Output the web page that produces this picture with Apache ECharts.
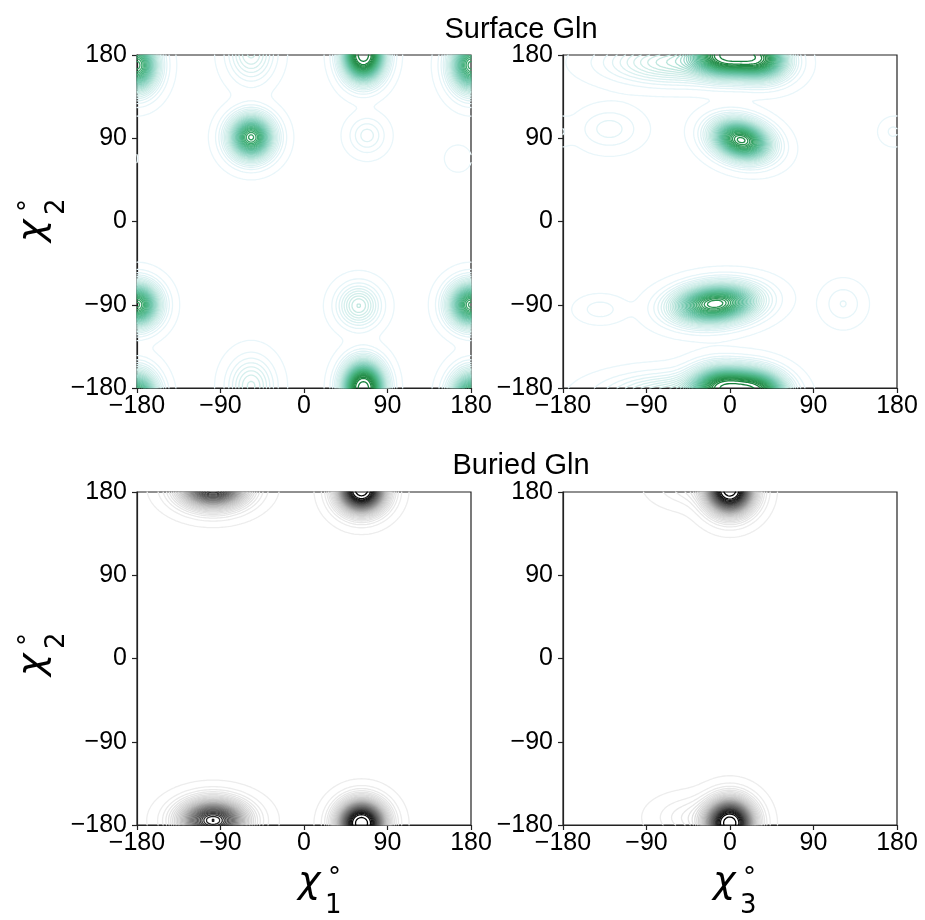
<!DOCTYPE html>
<html><head><meta charset="utf-8">
<script src="https://cdn.jsdelivr.net/npm/echarts@6/dist/echarts.min.js"></script>
<style>html,body{margin:0;padding:0;background:#fff}#c{width:925px;height:920px}</style>
</head><body><div id="c"></div>
<script>
// ---- data ----
const tickValues = [-180, -90, 0, 90, 180];
const panelTitles = ['Surface Gln', 'Buried Gln'];
// density peaks: [centre x (deg), centre chi2 (deg), spread x, spread y, relative height, tilt deg]
const surfaceChi1Peaks = [
  [58, 180, 12, 17, 0.75, 0],
  [70, 180, 12, 17, 0.75, 0],
  [-57, 91, 15, 15, 0.88, 0],
  [180, 169, 14, 18, 0.85, 0],
  [180, -90, 15, 15, 0.88, 0],
  [59, -91, 14.5, 14.5, 0.25, 0],
  [-57, -178, 15.5, 19.5, 0.20, 0],
  [68, 93, 12.5, 12.5, 0.10, 0],
  [166, 68, 9, 9, 0.03, 0]
];
const surfaceChi3Peaks = [
  [-8, 180, 20, 14, 0.80, -5],
  [30, 177, 20, 14, 0.80, -10],
  [-60, 172, 44, 14, 0.22, 0],
  [12, 88, 20, 13, 0.82, -15],
  [-16, -89, 28, 13, 0.80, 5],
  [122, -89, 14, 14, 0.05, 0],
  [175, 97, 9, 9, 0.03, 0],
  [-130, 100, 21, 14, 0.06, 0],
  [-140, -95, 16, 9, 0.04, 0]
];
const buriedChi1Peaks = [
  [62, -178, 16, 15, 1.00, 0],
  [-98, -175, 23, 14, 0.75, 0]
];
const buriedChi3Peaks = [
  [0, -178, 16, 16, 1.00, 0],
  [-40, -172, 25, 14, 0.07, 0]
];

// ---- styling ----
const BuGn = ['#f7fcfd','#e5f5f9','#ccece6','#99d8c9','#66c2a4','#41ae76','#238b45','#006d2c','#00441b'];
const Greys = ['#ffffff','#f0f0f0','#d9d9d9','#bdbdbd','#969696','#737373','#525252','#252525','#000000'];
function hex2rgb(h){return [parseInt(h.slice(1,3),16),parseInt(h.slice(3,5),16),parseInt(h.slice(5,7),16)];}
function cmap(stops, t){
  t = Math.max(0, Math.min(1, t));
  const p = t*(stops.length-1), i = Math.min(stops.length-2, Math.floor(p)), f = p-i;
  const a = hex2rgb(stops[i]), b = hex2rgb(stops[i+1]);
  return 'rgb(' + a.map((v,k)=>Math.round(v+(b[k]-v)*f)).join(',') + ')';
}

// ---- density field + marching squares ----
const N = 180;
const xs = [], ys = [];
for (let i = 0; i <= N; i++) { xs.push(-180 + 360*i/N); ys.push(-180 + 360*i/N); }
function wrap(d){ return ((d+180)%360+360)%360-180; }
function density(peaks){
  const g = [];
  let mx = 0;
  for (let j = 0; j <= N; j++) {
    const row = new Float64Array(N+1);
    for (let i = 0; i <= N; i++) {
      let v = 0;
      for (const p of peaks) {
        const dx = wrap(xs[i]-p[0]), dy = wrap(ys[j]-p[1]);
        const a = p[5]*Math.PI/180, c = Math.cos(a), s = Math.sin(a);
        const u = dx*c + dy*s, w = -dx*s + dy*c;
        v += p[4]*Math.exp(-0.5*(u*u/(p[2]*p[2]) + w*w/(p[3]*p[3])));
      }
      row[i] = v; if (v > mx) mx = v;
    }
    g.push(row);
  }
  return {g, mx};
}
function contour(g, L){
  const W = N+1;
  const adj = new Map();
  const pos = new Map();
  function hId(i,j){ const id=(j*W+i)*2; if(!pos.has(id)){const a=g[j][i],b=g[j][i+1];const t=(L-a)/(b-a);pos.set(id,[xs[i]+t*(xs[i+1]-xs[i]),ys[j]]);} return id; }
  function vId(i,j){ const id=(j*W+i)*2+1; if(!pos.has(id)){const a=g[j][i],b=g[j+1][i];const t=(L-a)/(b-a);pos.set(id,[xs[i],ys[j]+t*(ys[j+1]-ys[j])]);} return id; }
  function seg(a,b){ if(!adj.has(a))adj.set(a,[]); if(!adj.has(b))adj.set(b,[]); adj.get(a).push(b); adj.get(b).push(a); }
  for (let j = 0; j < N; j++) for (let i = 0; i < N; i++) {
    const v0=g[j][i], v1=g[j][i+1], v2=g[j+1][i+1], v3=g[j+1][i];
    const c = (v0>L?1:0)|(v1>L?2:0)|(v2>L?4:0)|(v3>L?8:0);
    if (c===0||c===15) continue;
    const e0=()=>hId(i,j), e1=()=>vId(i+1,j), e2=()=>hId(i,j+1), e3=()=>vId(i,j);
    const ctr = (v0+v1+v2+v3)/4 > L;
    switch(c){
      case 1: case 14: seg(e3(),e0()); break;
      case 2: case 13: seg(e0(),e1()); break;
      case 3: case 12: seg(e3(),e1()); break;
      case 4: case 11: seg(e1(),e2()); break;
      case 6: case 9: seg(e0(),e2()); break;
      case 7: case 8: seg(e3(),e2()); break;
      case 5: if(ctr){seg(e0(),e1());seg(e2(),e3());}else{seg(e3(),e0());seg(e1(),e2());} break;
      case 10: if(ctr){seg(e3(),e0());seg(e1(),e2());}else{seg(e0(),e1());seg(e2(),e3());} break;
    }
  }
  const seen = new Set(), lines = [];
  function walk(s){
    const line=[pos.get(s)]; seen.add(s); let cur=s;
    for(;;){
      const nb=adj.get(cur); let nx=null;
      for(const n of nb) if(!seen.has(n)){nx=n;break;}
      if(nx===null){ if(line.length>2 && nb.indexOf(s)>=0) line.push(pos.get(s)); break; }
      seen.add(nx); line.push(pos.get(nx)); cur=nx;
    }
    return line;
  }
  for (const [k,v] of adj) if (v.length===1 && !seen.has(k)) lines.push(walk(k));
  for (const [k] of adj) if (!seen.has(k)) lines.push(walk(k));
  return lines;
}

// contour levels: roughly even, thinning out toward the top of each peak
const NL = 36, LO = 0.006, HI = 0.92;
function levelFrac(f){ return 0.5*f + 0.5*(1 - Math.sqrt(1 - f)); }
const panels = [
  {peaks: surfaceChi1Peaks, stops: BuGn, t0: 0.1, t1: 0.8, cg: 1.0},
  {peaks: surfaceChi3Peaks, stops: BuGn, t0: 0.1, t1: 0.8, cg: 1.0},
  {peaks: buriedChi1Peaks, stops: Greys, t0: 0.14, t1: 1.0, cg: 1.3},
  {peaks: buriedChi3Peaks, stops: Greys, t0: 0.14, t1: 1.0, cg: 1.3}
];
const gridPos = [
  {left:137, top:55}, {left:563, top:55}, {left:137, top:492}, {left:563, top:492}
];
const FONT = '"Liberation Sans", Arial, sans-serif';
const series = [], grids = [], xAxes = [], yAxes = [];
panels.forEach((p, idx) => {
  grids.push({left: gridPos[idx].left, top: gridPos[idx].top, width: 334, height: 333,
    show: true, borderColor: '#222', borderWidth: 1.2, backgroundColor: 'transparent'});
  const ax = {
    gridIndex: idx, type: 'value', min: -180, max: 180, interval: 90,
    axisLine: {show: true, onZero: false, lineStyle: {color: '#222', width: 1.2}},
    axisTick: {show: true, length: 5, lineStyle: {color: '#222', width: 1.2}},
    splitLine: {show: false},
    axisLabel: {fontSize: 25, color: '#000', fontFamily: FONT,
      formatter: v => tickValues.indexOf(v) >= 0 ? String(v).replace('-', '\u2212') : ''}
  };
  xAxes.push(Object.assign({}, ax, {axisLabel: Object.assign({}, ax.axisLabel, {margin: 6})}));
  yAxes.push(Object.assign({}, ax, {axisLabel: Object.assign({}, ax.axisLabel, {margin: 10})}));
  const {g, mx} = density(p.peaks);
  for (let k = 0; k < NL; k++) {
    const f = k / (NL - 1);
    const L = mx * (LO + (HI - LO) * levelFrac(f));
    const lines = contour(g, L);
    const col = cmap(p.stops, p.t0 + (p.t1 - p.t0) * Math.pow(f, p.cg));
    series.push({
      type: 'lines', coordinateSystem: 'cartesian2d', xAxisIndex: idx, yAxisIndex: idx,
      polyline: true, silent: true, animation: false,
      lineStyle: {color: col, width: 1.3, opacity: 1, cap: 'round', join: 'round'},
      data: lines.map(l => ({coords: l}))
    });
  }
});

// chi axis names: chi glyph, subscript and degree sign, laid out in a local frame
function chiLabel(x, y, sub, rotated){
  const children = [
    {type:'text', x:0, y:0, style:{text:'\u03c7', font:'italic 38px "DejaVu Sans"', fill:'#000', verticalAlign:'top'}},
    {type:'text', x:27, y:30, style:{text:sub, font:'26px "DejaVu Sans"', fill:'#000', verticalAlign:'top'}},
    {type:'text', x:30, y:3, style:{text:'\u00b0', font:'26px "DejaVu Sans"', fill:'#000', verticalAlign:'top'}}
  ];
  return {type:'group', x, y, rotation: rotated ? Math.PI/2 : 0, children};
}

const chart = echarts.init(document.getElementById('c'), null, {renderer: 'canvas'});
chart.setOption({
  animation: false,
  backgroundColor: '#fff',
  grid: grids, xAxis: xAxes, yAxis: yAxes, series,
  graphic: [
    {type:'text', x:521, y:30, style:{text:panelTitles[0], font:'29px ' + FONT, fill:'#000', align:'center', verticalAlign:'middle'}},
    {type:'text', x:521, y:466, style:{text:panelTitles[1], font:'29px ' + FONT, fill:'#000', align:'center', verticalAlign:'middle'}},
    chiLabel(14, 242, '2', true),
    chiLabel(14, 676, '2', true),
    chiLabel(298, 863, '1', false),
    chiLabel(713, 863, '3', false)
  ]
});
</script></body></html>
